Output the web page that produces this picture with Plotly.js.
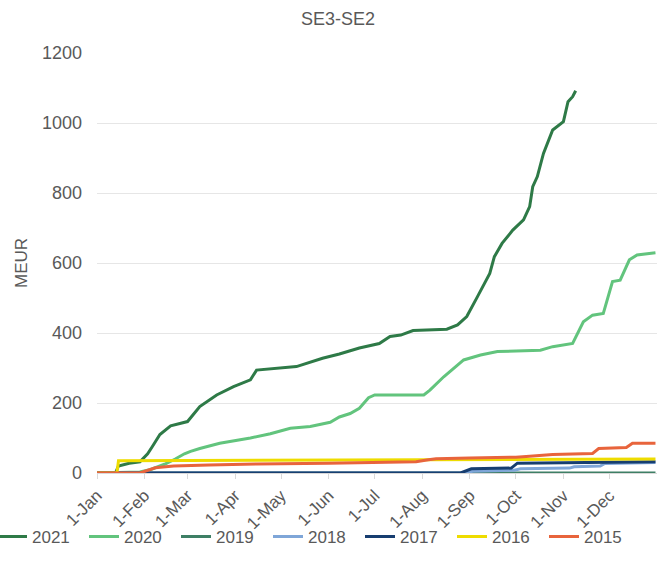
<!DOCTYPE html>
<html>
<head>
<meta charset="utf-8">
<script src="https://cdn.plot.ly/plotly-3.0.1.min.js"></script>
<style>html,body{margin:0;padding:0;background:#fff;}#chart{width:659px;height:578px;}</style>
</head>
<body>
<div id="chart"></div>
<script>
// Reference (dummy) year used to place day-of-year data on a date axis
const refYear = "2021";

const monthTicks = ["01-01","02-01","03-01","04-01","05-01","06-01","07-01","08-01","09-01","10-01","11-01","12-01"];
const monthLabels = ["1-Jan","1-Feb","1-Mar","1-Apr","1-May","1-Jun","1-Jul","1-Aug","1-Sep","1-Oct","1-Nov","1-Dec"];

const days2021 = ["01-01","01-13","01-15","01-22","01-29","02-03","02-06","02-11","02-18","03-01","03-09","03-20","03-31","04-11","04-15","05-11","05-28","06-08","06-21","07-04","07-11","07-18","07-26","08-17","08-24","08-30","09-06","09-14","09-17","09-22","09-29","10-06","10-10","10-12","10-15","10-19","10-25","11-01","11-04","11-07","11-09"];
const vals2021 = [0,0,20,28,32,55,75,110,135,147,190,223,247,266,294,304,328,340,357,370,390,394,407,411,423,447,504,570,618,656,694,723,761,818,847,913,980,1004,1061,1075,1092];

const days2020 = ["01-01","01-29","02-05","02-14","02-21","02-27","03-03","03-09","03-22","04-11","04-24","05-07","05-20","06-02","06-08","06-15","06-21","06-27","07-01","08-02","08-06","08-15","08-28","09-08","09-19","10-17","10-25","11-07","11-14","11-20","11-27","12-03","12-08","12-14","12-19","12-31"];
const vals2020 = [0,3,10,25,40,55,62,70,85,100,112,128,133,145,160,170,185,215,223,223,237,275,323,337,347,351,361,370,432,451,456,547,551,609,623,629];

const days2019 = ["01-01","12-31"];
const vals2019 = [0,0];

const days2018 = ["01-01","08-28","09-03","09-30","10-04","11-05","11-08","11-25","11-28","12-31"];
const vals2018 = [0,0,5,8,12,14,18,20,27,30];

const days2017 = ["01-01","08-26","09-02","09-28","10-02","12-19","12-31"];
const vals2017 = [0,0,12,14,28,30,32];

const days2016 = ["01-01","01-14","01-15","04-01","08-01","10-01","12-31"];
const vals2016 = [0,0,35,36,37,38,40];

const days2015 = ["01-01","01-29","02-08","02-20","03-15","04-15","06-01","07-01","07-28","08-05","08-10","09-01","10-01","10-10","10-25","11-20","11-24","12-12","12-16","12-31"];
const vals2015 = [0,0,15,20,23,26,28,30,32,38,41,43,45,48,53,56,70,73,85,85];

const seriesNames = ["2021","2020","2019","2018","2017","2016","2015"];
const seriesDays = [days2021,days2020,days2019,days2018,days2017,days2016,days2015];
const seriesVals = [vals2021,vals2020,vals2019,vals2018,vals2017,vals2016,vals2015];
const seriesColors = ["#2E7A47","#62C47D","#3E7F65","#7FA6D8","#173E70","#EEDC00","#E8643C"];

const toDate = d => refYear + "-" + d;

const traces = seriesNames.map((n, i) => ({
  type: "scatter",
  mode: "lines",
  name: n,
  x: seriesDays[i].map(toDate),
  y: seriesVals[i],
  line: {color: seriesColors[i], width: 3},
  hoverinfo: "x+y+name"
}));

const textColor = "#595959";
const layout = {
  width: 659,
  height: 578,
  paper_bgcolor: "#ffffff",
  plot_bgcolor: "#ffffff",
  font: {family: "Liberation Sans, Arial, sans-serif", size: 17, color: textColor},
  margin: {l: 97, r: 2, t: 53, b: 105, autoexpand: false},
  title: {text: "SE3-SE2", font: {size: 18, color: textColor}, xref: "container", x: 0.513, xanchor: "center", yref: "container", y: 0.968, yanchor: "middle"},
  showlegend: true,
  legend: {orientation: "h", xref: "paper", yref: "paper", x: -0.1875, xanchor: "left", y: -0.152, yanchor: "middle", entrywidth: 47, itemwidth: 30, bgcolor: "rgba(0,0,0,0)", font: {size: 17, color: textColor}, traceorder: "normal"},
  xaxis: {
    type: "date",
    range: [refYear + "-01-01", (Number(refYear) + 1) + "-01-01"],
    tickvals: monthTicks.map(toDate),
    ticktext: monthLabels,
    tickangle: -45,
    showgrid: false,
    showline: true,
    linecolor: "#D9D9D9",
    linewidth: 1,
    ticks: "outside",
    ticklen: 5,
    tickcolor: "#D9D9D9",
    zeroline: false,
    automargin: false,
    tickfont: {size: 17, color: textColor},
    fixedrange: true
  },
  yaxis: {
    range: [0, 1200],
    dtick: 200,
    tick0: 0,
    showgrid: true,
    gridcolor: "#E6E6E6",
    gridwidth: 1,
    zeroline: false,
    showline: false,
    ticks: "",
    automargin: false,
    ticklabelstandoff: 14,
    tickfont: {size: 18, color: textColor},
    title: {text: "MEUR", font: {size: 17, color: textColor}, standoff: 10},
    fixedrange: true
  }
};

Plotly.newPlot("chart", traces, layout, {displayModeBar: false, staticPlot: true});
</script>
</body>
</html>
